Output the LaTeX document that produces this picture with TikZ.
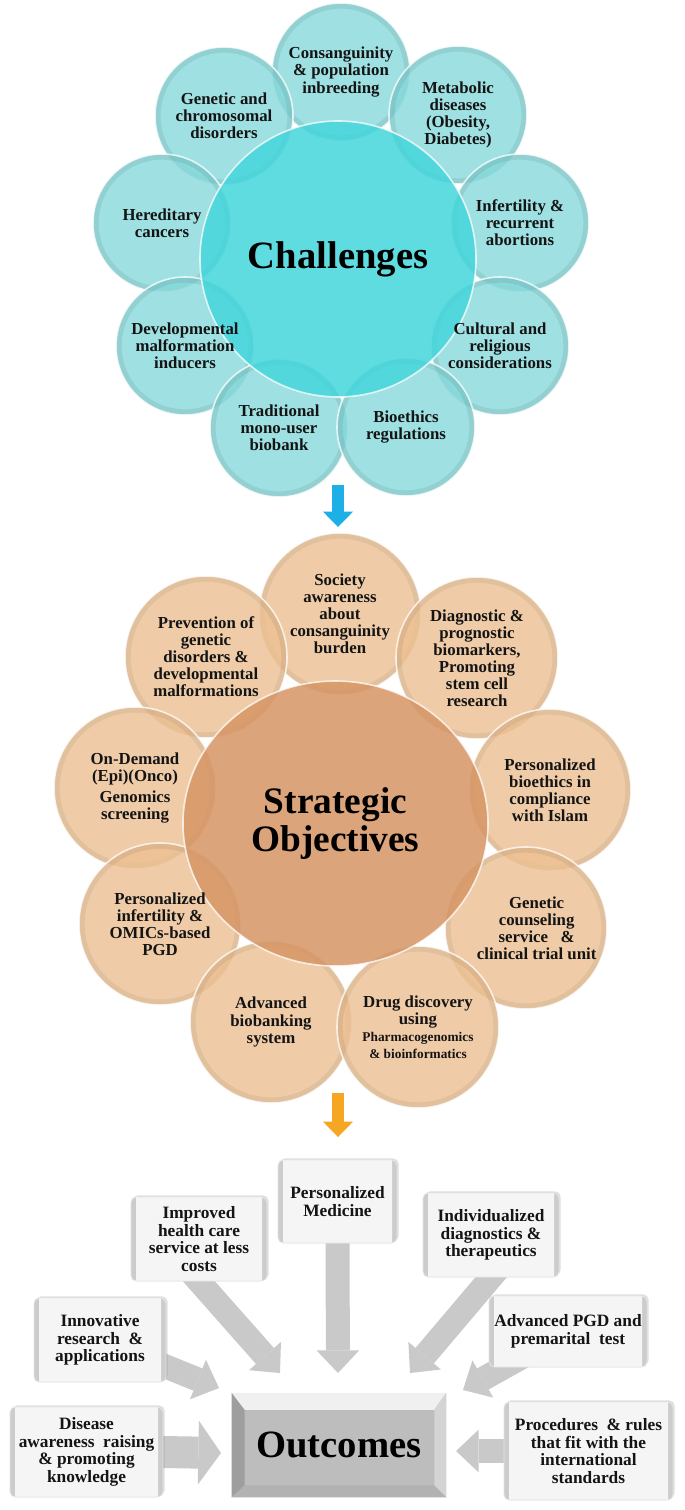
\documentclass[tikz,border=0pt]{standalone}
\usepackage{fontspec}
\setmainfont{Liberation Serif}
\usetikzlibrary{arrows.meta,shapes.geometric,backgrounds,shadows}

\definecolor{cyanSat}{RGB}{135,217,219}
\definecolor{cyanCore}{RGB}{68,214,219}
\definecolor{tanSat}{RGB}{236,192,146}
\definecolor{tanCore}{RGB}{214,149,101}
\definecolor{arrBlue}{RGB}{28,176,230}
\definecolor{arrOrange}{RGB}{245,166,35}

\tikzset{
    chCirc/.style={circle, minimum size=103.5pt, inner sep=0pt, fill=cyanSat, fill opacity=.8, draw=white, draw opacity=.75, line width=1.2pt,
        path picture={\draw[black, draw opacity=.07, line width=4pt] (path picture bounding box.center) circle (49.5pt);}},
    chCore/.style={circle, minimum size=207pt, inner sep=0pt, fill=cyanCore, fill opacity=.85, text opacity=1, draw=white, draw opacity=.75, line width=1.2pt, font=\bfseries\fontsize{29}{34}\selectfont},
    soCirc/.style={circle, minimum size=121.5pt, inner sep=0pt, fill=tanSat, fill opacity=.8, draw=white, draw opacity=.75, line width=1.2pt,
        path picture={\draw[black, draw opacity=.06, line width=4pt] (path picture bounding box.center) circle (58.5pt);}},
    soCore/.style={ellipse, minimum width=228.75pt, minimum height=213.75pt, inner sep=0pt, fill=tanCore, fill opacity=.85, text opacity=1, draw=white, draw opacity=.75, line width=1.2pt, align=center, font=\bfseries\fontsize{28}{29}\selectfont},
    circText/.style={align=center, inner sep=0pt, text=black!92, font=\bfseries\fontsize{12.6}{12.8}\selectfont},
    tBox/.style={rectangle, rounded corners=4pt, fill=black!20, draw=black!10, line width=.6pt, inner sep=2pt, align=center, text=black!92,
        drop shadow={opacity=.25, shadow xshift=1.2pt, shadow yshift=1.2pt},
        font=\bfseries\fontsize{13}{13.2}\selectfont,
        path picture={\fill[black!4, rounded corners=3pt] ([shift={(5,4)}]path picture bounding box.north west) rectangle ([shift={(-5,-9)}]path picture bounding box.south east);}},
    outcBox/.style={rectangle, fill=black!26, minimum width=160.5pt, minimum height=78pt, font=\bfseries\fontsize{29}{34}\selectfont},
    gArr/.style={draw=black!21, line width=18pt, -{Triangle[length=17pt,width=32pt,line width=0pt]}, shorten <=-10pt},
    gArrBig/.style={gArr, line width=24pt, -{Triangle[length=17pt,width=48pt,line width=0pt]}},
    blockArr/.style={line width=9pt, -{Triangle[length=11.5pt,width=22.5pt,line width=0pt]}}
}

\begin{document}
\begin{tikzpicture}[x=0.75pt,y=0.75pt,yscale=-1,xscale=1]
\path[use as bounding box] (0,0) rectangle (685,1510);

%Shape: Circles, challenges
    \node[chCirc] (cons) at (341,72) {};
    \node[chCirc] (gen) at (224,116) {};
    \node[chCirc] (meta) at (458,115) {};
    \node[chCirc] (here) at (162,223) {};
    \node[chCirc] (infer) at (520,223) {};
    \node[chCirc] (devel) at (185,346) {};
    \node[chCirc] (cult) at (500,346) {};
    \node[chCirc] (trad) at (279,428) {};
    \node[chCirc] (bioe) at (406,427) {};
    \node[chCore] (chal) at (338,259) {Challenges};

% Text Node
    \node[circText] (consT) at (cons) {Consanguinity\\\& population\\inbreeding};
    \node[circText] (genT) at (gen) {Genetic and\\chromosomal\\disorders};
    \node[circText] (metaT) at (meta) {Metabolic\\diseases\\(Obesity,\\Diabetes)};
    \node[circText] (hereT) at (here) {Hereditary\\cancers};
    \node[circText] (inferT) at (infer) {Infertility \&\\recurrent\\abortions};
    \node[circText] (develT) at (devel) {Developmental\\malformation\\inducers};
    \node[circText] (cultT) at (cult) {Cultural and\\religious\\considerations};
    \node[circText] (tradT) at (trad) {Traditional\\mono-user\\biobank};
    \node[circText] (bioeT) at (bioe) {Bioethics\\regulations};

%Straight Lines, blue block arrow
    \coordinate (blueTop) at (338,485);
    \coordinate (blueTip) at (338,527);
    \draw[blockArr, arrBlue] (blueTop) -- (blueTip);

%Shape: Circles, strategic objectives
    \node[soCirc] (soc) at (340,614) {};
    \node[soCirc] (prev) at (206,657) {};
    \node[soCirc] (diag) at (477,658) {};
    \node[soCirc] (ondem) at (135,788) {};
    \node[soCirc] (pbio) at (550,790) {};
    \node[soCirc] (pinf) at (160,924) {};
    \node[soCirc] (gcoun) at (526,928) {};
    \node[soCirc] (abio) at (271,1022) {};
    \node[soCirc] (drug) at (418,1027) {};
    \node[soCore] (strat) at (335.5,823.5) {Strategic\\Objectives};

% Text Node
    \node[circText] (socT) at (soc) {Society\\awareness\\about\\consanguinity\\burden};
    \node[circText] (prevT) at (prev) {Prevention of\\genetic\\disorders \&\\developmental\\malformations};
    \node[circText] (diagT) at (diag) {Diagnostic \&\\prognostic\\biomarkers,\\Promoting\\stem cell\\research};
    \node[circText] (ondemT) at (ondem) {On-Demand\\(Epi)(Onco)\\[3pt]Genomics\\screening};
    \node[circText] (pbioT) at (pbio) {Personalized\\bioethics in\\compliance\\with Islam};
    \node[circText] (pinfT) at (pinf) {Personalized\\infertility \&\\OMICs-based\\PGD};
    \node[circText] (gcounT) at ([xshift=8]gcoun) {Genetic\\counseling\\service \ \ \&\\clinical trial unit};
    \node[circText] (abioT) at (abio) {Advanced\\biobanking\\system};
    \node[circText] (drugT) at (drug) {Drug discovery\\using\\{\fontsize{10}{12}\selectfont Pharmacogenomics}\\{\fontsize{10}{12}\selectfont \& bioinformatics}};

%Straight Lines, orange block arrow
    \coordinate (orTop) at (338,1093);
    \coordinate (orTip) at (338,1137);
    \draw[blockArr, arrOrange] (orTop) -- (orTip);

%Shape: Boxes, outcomes
    \node[tBox, minimum width=89.25pt, minimum height=62.25pt] (persmed) at (337.5,1201.5) {Personalized\\Medicine};
    \node[tBox, minimum width=102pt, minimum height=63pt] (impr) at (199,1239) {Improved\\health care\\service at less\\costs};
    \node[tBox, minimum width=102pt, minimum height=63pt] (indiv) at (491,1235) {Individualized\\diagnostics \&\\therapeutics};
    \node[tBox, minimum width=99pt, minimum height=63pt] (innov) at (100,1340) {Innovative\\research \ \&\\applications};
    \node[tBox, minimum width=118.5pt, minimum height=53.25pt] (advpgd) at (568,1331.5) {Advanced PGD and\\premarital \ test};
    \node[tBox, minimum width=114.75pt, minimum height=67.5pt] (dis) at (86.5,1452) {Disease\\awareness \ raising\\\& promoting\\knowledge};
    \node[tBox, minimum width=126.75pt, minimum height=73.5pt] (proc) at (588.5,1451) {Procedures \ \& rules\\that fit with the\\international\\standards};
    \node[outcBox] (outc) at (339,1445) {Outcomes};

%Shape: bevel of the outcomes box
    \fill[black!38] (outc.north west) -- (outc.south west) -- ([shift={(13,-12)}]outc.south west) -- ([shift={(13,17)}]outc.north west) -- cycle;
    \fill[black!6] (outc.north west) -- (outc.north east) -- ([shift={(-12,17)}]outc.north east) -- ([shift={(13,17)}]outc.north west) -- cycle;
    \fill[black!17] (outc.north east) -- (outc.south east) -- ([shift={(-12,-12)}]outc.south east) -- ([shift={(-12,17)}]outc.north east) -- cycle;
    \fill[black!30] (outc.south west) -- (outc.south east) -- ([shift={(-12,-12)}]outc.south east) -- ([shift={(13,-12)}]outc.south west) -- cycle;

%Straight Lines, grey arrows into outcomes
    \coordinate (tipM) at (338,1373);
    \coordinate (tipI) at (280,1373);
    \coordinate (tipV) at (410,1373);
    \coordinate (tipN) at (219,1388);
    \coordinate (tipA) at (463,1390);
    \coordinate (tipD) at (221,1453);
    \coordinate (tipP) at (456,1451);
    \begin{scope}[on background layer]
    \fill[white] (0,0) rectangle (685,1510);
    \draw[gArr] (persmed.south) -- (tipM);
    \draw[gArr] (impr.south) -- (tipI);
    \draw[gArr] (indiv.south) -- (tipV);
    \draw[gArr] (innov.center) -- (tipN);
    \draw[gArr] (advpgd.center) -- (tipA);
    \draw[gArrBig] (dis.east) -- (tipD);
    \draw[gArr] (proc.west) -- (tipP);
    \end{scope}

\end{tikzpicture}
\end{document}
